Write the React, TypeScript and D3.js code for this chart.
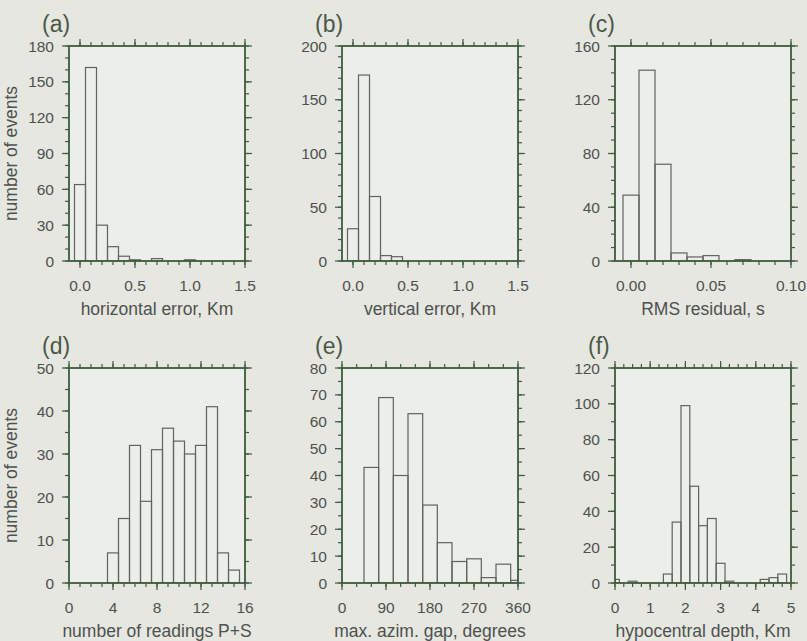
import React from "react";
import * as d3 from "d3";

// (a) horizontal error, bins of 0.1 km
const horizCenters = [0, 0.1, 0.2, 0.3, 0.4, 0.5, 0.6, 0.7, 0.8, 0.9, 1.0, 1.1, 1.2];
const horizCounts = [64, 162, 30, 12, 4, 1, 0, 2, 0, 0, 1, 0, 0];

// (b) vertical error
const vertCenters = [0, 0.1, 0.2, 0.3, 0.4, 0.5, 0.6];
const vertCounts = [30, 173, 60, 5, 4, 0, 0];

// (c) RMS residual, bins of 0.01 s
const rmsCenters = [0, 0.01, 0.02, 0.03, 0.04, 0.05, 0.06, 0.07];
const rmsCounts = [49, 142, 72, 6, 3, 4, 0, 1];

// (d) number of readings P+S
const readCenters = [4, 5, 6, 7, 8, 9, 10, 11, 12, 13, 14, 15];
const readCounts = [7, 15, 32, 19, 31, 36, 33, 30, 32, 41, 7, 3];

// (e) max azimuthal gap, bins of 30 degrees
const gapCenters = [60, 90, 120, 150, 180, 210, 240, 270, 300, 330, 360];
const gapCounts = [43, 69, 40, 63, 29, 15, 8, 9, 2, 7, 1];

// (f) hypocentral depth, bins of 0.25 km
const depthCenters = [0, 0.5, 1.5, 1.75, 2.0, 2.25, 2.5, 2.75, 3.0, 3.25, 4.25, 4.5, 4.75];
const depthCounts = [2, 1, 5, 34, 99, 54, 32, 36, 11, 1, 2, 3, 5];

const W = 807;
const H = 641;
const colLeft = [69, 342, 615];
const rowTop = [46, 368];
const pw = 176;
const ph = 215;

const font = "'Liberation Sans', Arial, Helvetica, sans-serif";
const frameColor = "#3f5a3e";
const barColor = "#62625e";
const textColor = "#4f514f";

type PanelProps = {
  id: string;
  left: number;
  top: number;
  centers: number[];
  counts: number[];
  binWidth: number;
  xDomain: [number, number];
  yMax: number;
  xMajor: number;
  xMinor: number;
  xFirst: number;
  yMajor: number;
  yMinor: number;
  fmt: (v: number) => string;
  label: string;
  xTitle: string;
  yTitle?: string;
};

function steps(a: number, b: number, s: number) {
  const n = Math.round((b - a) / s);
  return d3.range(n + 1).map(i => +(a + i * s).toFixed(6));
}

function Panel(p: PanelProps) {
  const x = d3.scaleLinear().domain(p.xDomain).range([p.left, p.left + pw]);
  const y = d3.scaleLinear().domain([0, p.yMax]).range([p.top + ph, p.top]);
  const bottom = p.top + ph;
  const right = p.left + pw;
  const xMinorTicks = steps(p.xFirst, p.xDomain[1], p.xMinor).filter(v => v >= p.xDomain[0] - 1e-9);
  const xMajorTicks = steps(p.xFirst, p.xDomain[1], p.xMajor);
  const yMinorTicks = steps(0, p.yMax, p.yMinor);
  const yMajorTicks = steps(0, p.yMax, p.yMajor);
  const big = 7;
  const small = 4;
  return (
    <g>
      <defs>
        <clipPath id={`clip-${p.id}`}>
          <rect x={p.left} y={p.top - 1} width={pw} height={ph + 1} />
        </clipPath>
      </defs>
      <rect x={p.left} y={p.top} width={pw} height={ph} fill="#eceee9" />
      <g clipPath={`url(#clip-${p.id})`}>
        {p.centers.map((c, i) =>
          p.counts[i] > 0 ? (
            <rect
              key={i}
              x={x(c - p.binWidth / 2)}
              y={y(p.counts[i])}
              width={x(c + p.binWidth / 2) - x(c - p.binWidth / 2)}
              height={y(0) - y(p.counts[i])}
              fill="none"
              stroke={barColor}
              strokeWidth={1.2}
            />
          ) : null
        )}
      </g>
      {/* ticks, all outward */}
      <g stroke={frameColor} strokeWidth={1.2}>
        {xMinorTicks.map((v, i) => (
          <g key={"xm" + i}>
            <line x1={x(v)} x2={x(v)} y1={bottom} y2={bottom + small} />
            <line x1={x(v)} x2={x(v)} y1={p.top} y2={p.top - small} />
          </g>
        ))}
        {xMajorTicks.map((v, i) => (
          <g key={"xM" + i}>
            <line x1={x(v)} x2={x(v)} y1={bottom} y2={bottom + big} />
            <line x1={x(v)} x2={x(v)} y1={p.top} y2={p.top - big} />
          </g>
        ))}
        {yMinorTicks.map((v, i) => (
          <g key={"ym" + i}>
            <line x1={p.left} x2={p.left - small} y1={y(v)} y2={y(v)} />
            <line x1={right} x2={right + small} y1={y(v)} y2={y(v)} />
          </g>
        ))}
        {yMajorTicks.map((v, i) => (
          <g key={"yM" + i}>
            <line x1={p.left} x2={p.left - big} y1={y(v)} y2={y(v)} />
            <line x1={right} x2={right + big} y1={y(v)} y2={y(v)} />
          </g>
        ))}
      </g>
      <rect x={p.left} y={p.top} width={pw} height={ph} fill="none" stroke={frameColor} strokeWidth={1.8} />
      <g fill={textColor} fontFamily={font} fontSize={15.5}>
        {xMajorTicks.map((v, i) => (
          <text key={"xl" + i} x={x(v)} y={bottom + 30} textAnchor="middle">
            {p.fmt(v)}
          </text>
        ))}
        {yMajorTicks.map((v, i) => (
          <text key={"yl" + i} x={p.left - 15} y={y(v) + 5.5} textAnchor="end">
            {v}
          </text>
        ))}
      </g>
      <text x={p.left + pw / 2} y={bottom + 54} textAnchor="middle" fill={textColor} fontFamily={font} fontSize={17.5}>
        {p.xTitle}
      </text>
      {p.yTitle ? (
        <text
          transform={`translate(${p.left - 52},${p.top + ph / 2}) rotate(-90)`}
          textAnchor="middle"
          fill={textColor}
          fontFamily={font}
          fontSize={17.5}
        >
          {p.yTitle}
        </text>
      ) : null}
      <text x={p.left - 27} y={p.top - 14} fill="#4a5848" fontFamily={font} fontSize={23}>
        {p.label}
      </text>
    </g>
  );
}

export default function App() {
  const f1 = d3.format(".1f");
  const f2 = d3.format(".2f");
  const fi = d3.format("d");
  return (
    <svg width={W} height={H} style={{ position: "absolute", left: 0, top: 0 }}>
      <rect width={W} height={H} fill="#e5e7e0" />
      <Panel id="a" left={colLeft[0]} top={rowTop[0]} centers={horizCenters} counts={horizCounts}
        binWidth={0.1} xDomain={[-0.1, 1.5]} yMax={180} xMajor={0.5} xMinor={0.1} xFirst={0}
        yMajor={30} yMinor={10} fmt={f1} label="(a)" xTitle="horizontal error, Km" yTitle="number of events" />
      <Panel id="b" left={colLeft[1]} top={rowTop[0]} centers={vertCenters} counts={vertCounts}
        binWidth={0.1} xDomain={[-0.1, 1.5]} yMax={200} xMajor={0.5} xMinor={0.1} xFirst={0}
        yMajor={50} yMinor={10} fmt={f1} label="(b)" xTitle="vertical error, Km" />
      <Panel id="c" left={colLeft[2]} top={rowTop[0]} centers={rmsCenters} counts={rmsCounts}
        binWidth={0.01} xDomain={[-0.01, 0.1]} yMax={160} xMajor={0.05} xMinor={0.01} xFirst={0}
        yMajor={40} yMinor={10} fmt={f2} label="(c)" xTitle="RMS residual, s" />
      <Panel id="d" left={colLeft[0]} top={rowTop[1]} centers={readCenters} counts={readCounts}
        binWidth={1} xDomain={[0, 16]} yMax={50} xMajor={4} xMinor={1} xFirst={0}
        yMajor={10} yMinor={5} fmt={fi} label="(d)" xTitle="number of readings P+S" yTitle="number of events" />
      <Panel id="e" left={colLeft[1]} top={rowTop[1]} centers={gapCenters} counts={gapCounts}
        binWidth={30} xDomain={[0, 360]} yMax={80} xMajor={90} xMinor={30} xFirst={0}
        yMajor={10} yMinor={5} fmt={fi} label="(e)" xTitle="max. azim. gap, degrees" />
      <Panel id="f" left={colLeft[2]} top={rowTop[1]} centers={depthCenters} counts={depthCounts}
        binWidth={0.25} xDomain={[0, 5]} yMax={120} xMajor={1} xMinor={0.25} xFirst={0}
        yMajor={20} yMinor={10} fmt={fi} label="(f)" xTitle="hypocentral depth, Km" />
    </svg>
  );
}
